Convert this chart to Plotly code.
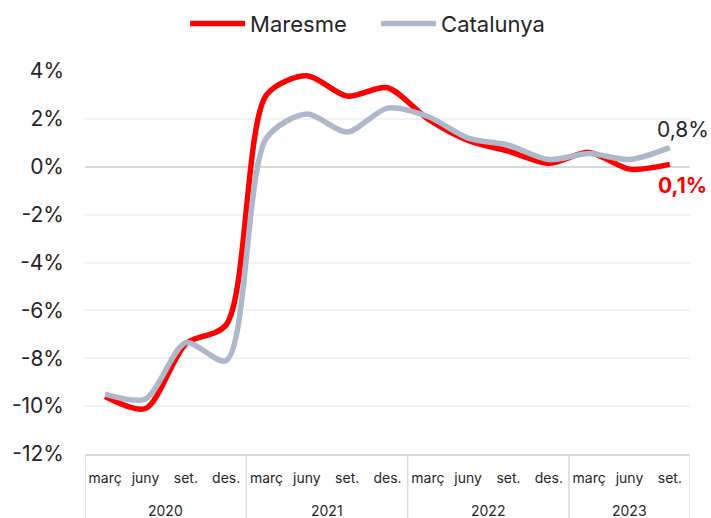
import plotly.graph_objects as go

years = ["2020"]*4 + ["2021"]*4 + ["2022"]*4 + ["2023"]*3
months = ["març", "juny", "set.", "des."]*3 + ["març", "juny", "set."]
maresme = [-9.6, -10.1, -7.4, -6.6, 3.0, 3.8, 2.95, 3.3, 2.0, 1.1, 0.65, 0.15, 0.6, -0.1, 0.1]
catalunya = [-9.5, -9.7, -7.35, -8.1, 1.2, 2.2, 1.45, 2.45, 2.1, 1.2, 0.9, 0.3, 0.55, 0.3, 0.8]
yticks = [-12, -10, -8, -6, -4, -2, 0, 2, 4]
ytext = [f"{v}%" for v in yticks]

FONT = "Inter"
TXT = "#262626"
xs = list(range(len(months)))

W, H = 711, 518
ML, MR, MT, MB = 85, 21, 71, 64

fig = go.Figure()
fig.add_trace(go.Scatter(x=xs, y=maresme, name="Maresme", mode="lines",
                         line=dict(color="#ff0000", width=5.5, shape="spline", smoothing=0.8)))
fig.add_trace(go.Scatter(x=xs, y=catalunya, name="Catalunya", mode="lines",
                         line=dict(color="#adb9ca", width=5.5, shape="spline", smoothing=0.8)))

# end labels
fig.add_annotation(x=xs[-1], y=catalunya[-1], xref="x", yref="y", text="0,8%", showarrow=False,
                   xshift=13, yshift=18, font=dict(family=FONT, size=21, color=TXT))
fig.add_annotation(x=xs[-1], y=maresme[-1], xref="x", yref="y", text="<b>0,1%</b>", showarrow=False,
                   xshift=13, yshift=-21, font=dict(family=FONT, size=21, color="#ff0000"))

# year group labels and dividers
plot_h = H - MT - MB
uniq = []
for y in years:
    if y not in uniq:
        uniq.append(y)
bounds = [-0.5]
for yr in uniq:
    idx = [i for i, v in enumerate(years) if v == yr]
    fig.add_annotation(x=sum(idx) / len(idx), y=0, xref="x", yref="paper", yanchor="middle",
                       yshift=-56, text=yr, showarrow=False,
                       font=dict(family=FONT, size=14, color=TXT))
    bounds.append(idx[-1] + 0.5)
for b in bounds:
    fig.add_shape(type="line", x0=b, x1=b, xref="x", y0=0, y1=-MB / plot_h, yref="paper",
                  line=dict(color="#d9d9d9", width=1.5), layer="below")

fig.update_layout(
    width=W, height=H,
    margin=dict(l=ML, r=MR, t=MT, b=MB, autoexpand=False),
    paper_bgcolor="white", plot_bgcolor="white",
    font=dict(family=FONT, color=TXT),
    showlegend=True,
    legend=dict(orientation="h", x=0.529, xanchor="center", xref="container",
                y=0.995, yanchor="top", yref="container",
                font=dict(size=22, color=TXT), itemwidth=55,
                entrywidth=121, entrywidthmode="pixels"),
    xaxis=dict(range=[-0.5, len(months) - 0.5], tickvals=xs, ticktext=months,
               showgrid=False, showline=True, linecolor="#d9d9d9", linewidth=1.5,
               zeroline=False, tickfont=dict(size=14, color=TXT), ticks="",
               ticklabelstandoff=10, automargin=False),
    yaxis=dict(range=[-12, 4], tickvals=yticks, ticktext=ytext, showgrid=True,
               gridcolor="#f2f2f2", gridwidth=1.5, zeroline=True, zerolinecolor="#d9d9d9",
               zerolinewidth=1.5, tickfont=dict(size=21, color=TXT), ticks="",
               ticklabelstandoff=20, automargin=False),
)
fig.write_html("out.html", config={"displayModeBar": False},
               post_script="document.body.style.margin='0';document.body.style.overflow='hidden';")
